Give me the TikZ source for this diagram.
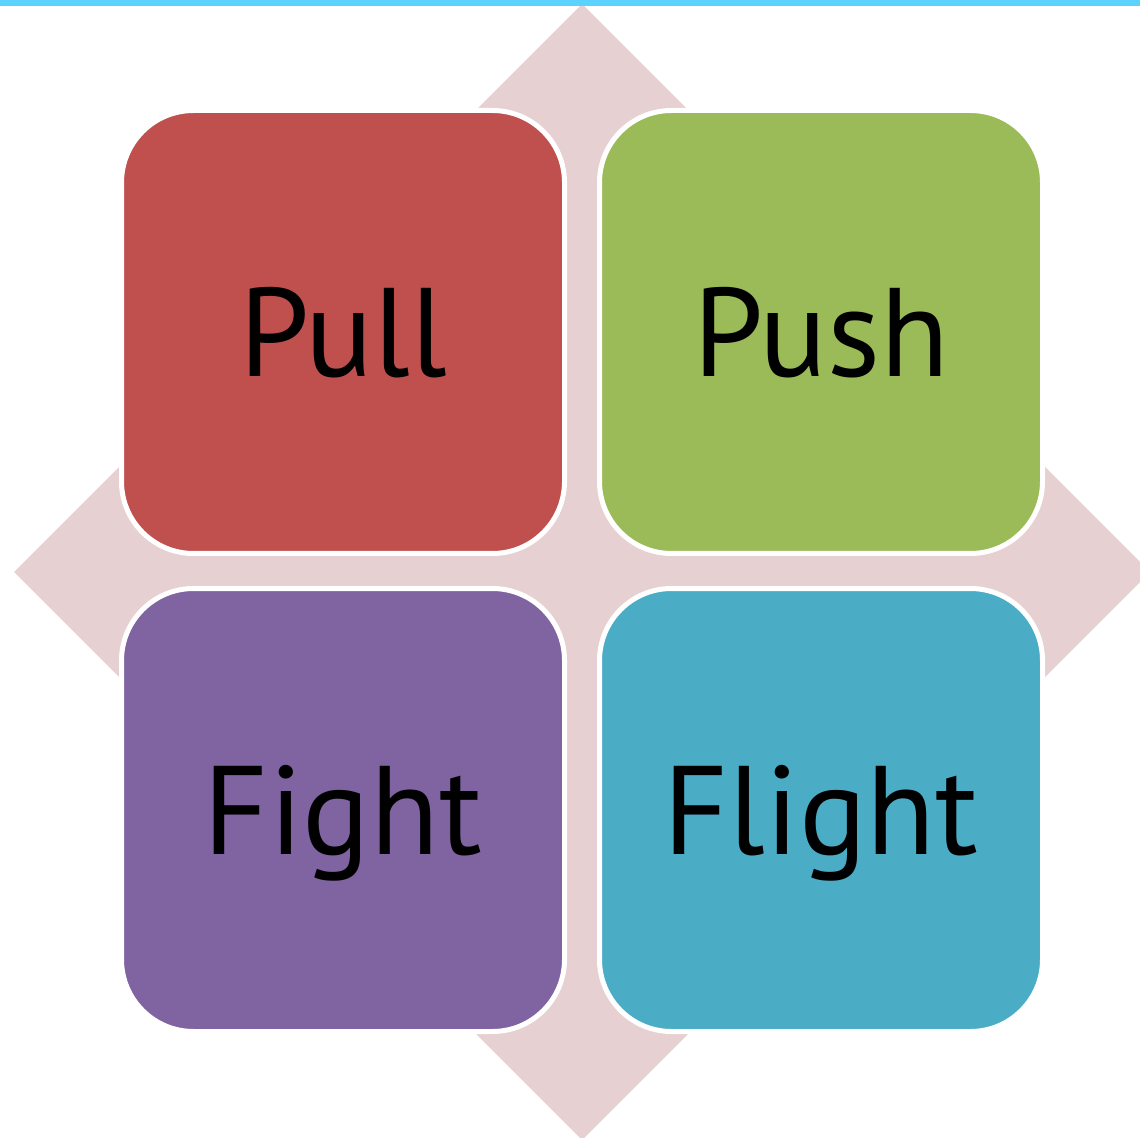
\documentclass[tikz,border=0pt]{standalone}
\usepackage{fontspec}
\setmainfont{PT Sans}
\definecolor{pullred}{HTML}{C0504D}
\definecolor{pushgreen}{HTML}{9BBB59}
\definecolor{fightviolet}{HTML}{8064A2}
\definecolor{flightblue}{HTML}{4BACC6}
\definecolor{diamondpink}{HTML}{E7D0D1}
\definecolor{topcyan}{HTML}{5CD3FE}
\tikzset{
  quad/.style={rectangle, rounded corners=36pt, draw=white, line width=2.5pt,
    minimum width=221.5pt, minimum height=221.5pt, inner sep=0pt,
    text depth=0pt, font=\fontsize{63}{72}\selectfont}
}
\begin{document}
\begin{tikzpicture}[x=0.5pt, y=-0.5pt]
		% Define main parameters
		\def\W{1140}  % picture width
		\def\H{1138}  % picture height
		\def\cx{582}  % centre of the diamond
		\def\cy{572}
		\def\r{568}   % half diagonal of the diamond
		
		% Frame of the picture
		\clip (0,0) rectangle (\W,\H);
		\fill[white] (0,0) rectangle (\W,\H);
		
		% Diamond behind the boxes
		\coordinate (N) at (\cx,\cy-\r);
		\coordinate (E) at (\cx+\r,\cy);
		\coordinate (S) at (\cx,\cy+\r);
		\coordinate (Wd) at (\cx-\r,\cy);
		\fill[diamondpink] (N) -- (E) -- (S) -- (Wd) -- cycle;
		
		% Top rule
		\fill[topcyan] (0,0) rectangle (\W,6);
		
		% The four boxes
		\node[quad, fill=pullred] (pull) at (343,332) {Pull};
		\node[quad, fill=pushgreen] (push) at (821,332) {Push};
		\node[quad, fill=fightviolet] (fight) at (343,810) {Fight};
		\node[quad, fill=flightblue] (flight) at (821,810) {Flight};
	\end{tikzpicture}
\end{document}
